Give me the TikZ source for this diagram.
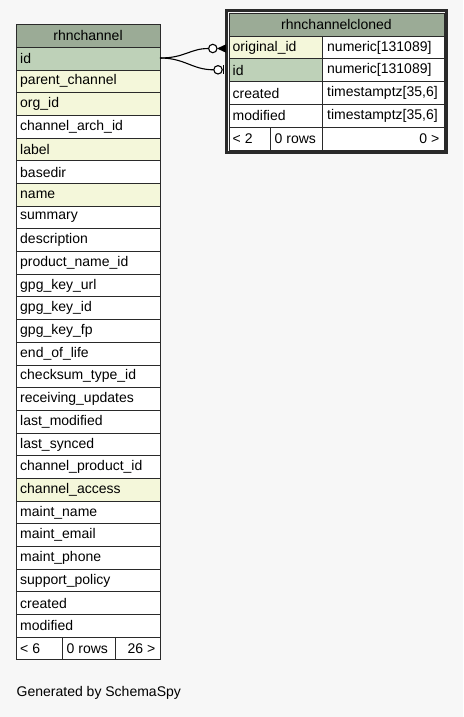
\documentclass[tikz,border=0pt]{standalone}
\usepackage{fontspec}
\setmainfont{Liberation Sans}
\definecolor{bgc}{HTML}{F7F7F7}
\definecolor{hdc}{HTML}{9BAB96}
\definecolor{pkc}{HTML}{BED1B8}
\definecolor{ixc}{HTML}{F4F7DA}
\definecolor{lnc}{HTML}{2A2A2A}
\tikzset{
  cell/.style={draw=lnc, line width=0.9pt},
  txt/.style={inner sep=0pt, anchor=west, font=\fontsize{14}{16}\selectfont},
  ctxt/.style={inner sep=0pt, anchor=center, font=\fontsize{14}{16}\selectfont},
  rtxt/.style={inner sep=0pt, anchor=east, font=\fontsize{14}{16}\selectfont},
  conn/.style={draw=black, line width=1.1pt},
}
\begin{document}
\begin{tikzpicture}[x=1pt,y=-1pt]
\useasboundingbox[fill=bgc] (0,0) rectangle (463,717);
% ---------- left table rhnchannel ----------
\def\LX{16}\def\RX{160}\def\HT{24}\def\HB{47.3}\def\RH{22.69}
\filldraw[cell, fill=hdc] (\LX,\HT) rectangle (\RX,\HB);
\node[ctxt] (lhead) at (88,35.9) {rhnchannel};
\foreach \name/\col [count=\i from 0] in {
  id/pkc, parent\_channel/ixc, org\_id/ixc, channel\_arch\_id/white, label/ixc,
  basedir/white, name/ixc, summary/white, description/white, product\_name\_id/white,
  gpg\_key\_url/white, gpg\_key\_id/white, gpg\_key\_fp/white, end\_of\_life/white,
  checksum\_type\_id/white, receiving\_updates/white, last\_modified/white,
  last\_synced/white, channel\_product\_id/white, channel\_access/ixc,
  maint\_name/white, maint\_email/white, maint\_phone/white, support\_policy/white,
  created/white, modified/white} {
  \pgfmathsetmacro\ya{\HB+\i*\RH}
  \pgfmathsetmacro\yb{\HB+(\i+1)*\RH}
  \filldraw[cell, fill=\col] (\LX,\ya) rectangle (\RX,\yb);
  \node[txt] (l\i) at (20,{(\ya+\yb)/2}) {\name};
}
\pgfmathsetmacro\fa{\HB+26*\RH}
\pgfmathsetmacro\fb{\HB+27*\RH}
\filldraw[cell, fill=white] (\LX,\fa) rectangle (62.7,\fb);
\filldraw[cell, fill=white] (62.7,\fa) rectangle (115,\fb);
\filldraw[cell, fill=white] (115,\fa) rectangle (\RX,\fb);
\node[txt] (lf1) at (20,{(\fa+\fb)/2}) {< 6};
\node[txt] (lf2) at (66.5,{(\fa+\fb)/2}) {0 rows};
\node[rtxt] (lf3) at (155.5,{(\fa+\fb)/2}) {26 >};
\coordinate (lid) at (160,58);
% ---------- right table rhnchannelcloned ----------
\def\ax{229}\def\bx{444}\def\mx{322.7}
\filldraw[cell, fill=hdc] (\ax,13) rectangle (\bx,36);
\node[ctxt] (rhead) at ({(\ax+\bx)/2},24.5) {rhnchannelcloned};
\foreach \n/\t/\col [count=\i from 0] in {
  original\_id/{numeric[131089]}/ixc, id/{numeric[131089]}/pkc,
  created/{timestamptz[35,6]}/white, modified/{timestamptz[35,6]}/white} {
  \pgfmathsetmacro\ya{36+\i*22.8}
  \pgfmathsetmacro\yb{36+(\i+1)*22.8}
  \filldraw[cell, fill=\col] (\ax,\ya) rectangle (\mx,\yb);
  \filldraw[cell, fill=white] (\mx,\ya) rectangle (\bx,\yb);
  \node[txt] (rn\i) at (232.5,{(\ya+\yb)/2}) {\n};
  \node[txt] (rt\i) at (327,{(\ya+\yb)/2}) {\t};
}
\filldraw[cell, fill=white] (\ax,127.2) rectangle (270.7,150);
\filldraw[cell, fill=white] (270.7,127.2) rectangle (\mx,150);
\filldraw[cell, fill=white] (\mx,127.2) rectangle (\bx,150);
\node[txt] (rf1) at (232.5,138.6) {< 2};
\node[txt] (rf2) at (274.5,138.6) {0 rows};
\node[rtxt] (rf3) at (439.5,138.6) {0 >};
\draw[draw=lnc, line width=2.6pt] (226.3,10.3) rectangle (446.7,152.7);
% ---------- connectors ----------
\coordinate (c1) at (212.8,48.5);
\coordinate (c2) at (218,69.8);
\draw[conn] (lid) .. controls (185,58) and (190,48.5) .. ([xshift=-4.3pt]c1);
\draw[conn] (lid) .. controls (185,58) and (192,69.8) .. ([xshift=-4.3pt]c2);
\draw[conn, fill=white] (c1) circle [radius=4.2pt];
\draw[conn, fill=white] (c2) circle [radius=4.2pt];
\fill[black] ([xshift=4.2pt]c1) -- (226,44.3) -- (226,52.7) -- cycle;
\draw[conn] (223.3,65.5) -- (223.3,74);
% ---------- footer text ----------
\node[txt] (gen) at (16.5,693) {Generated by SchemaSpy};
\end{tikzpicture}
\end{document}
